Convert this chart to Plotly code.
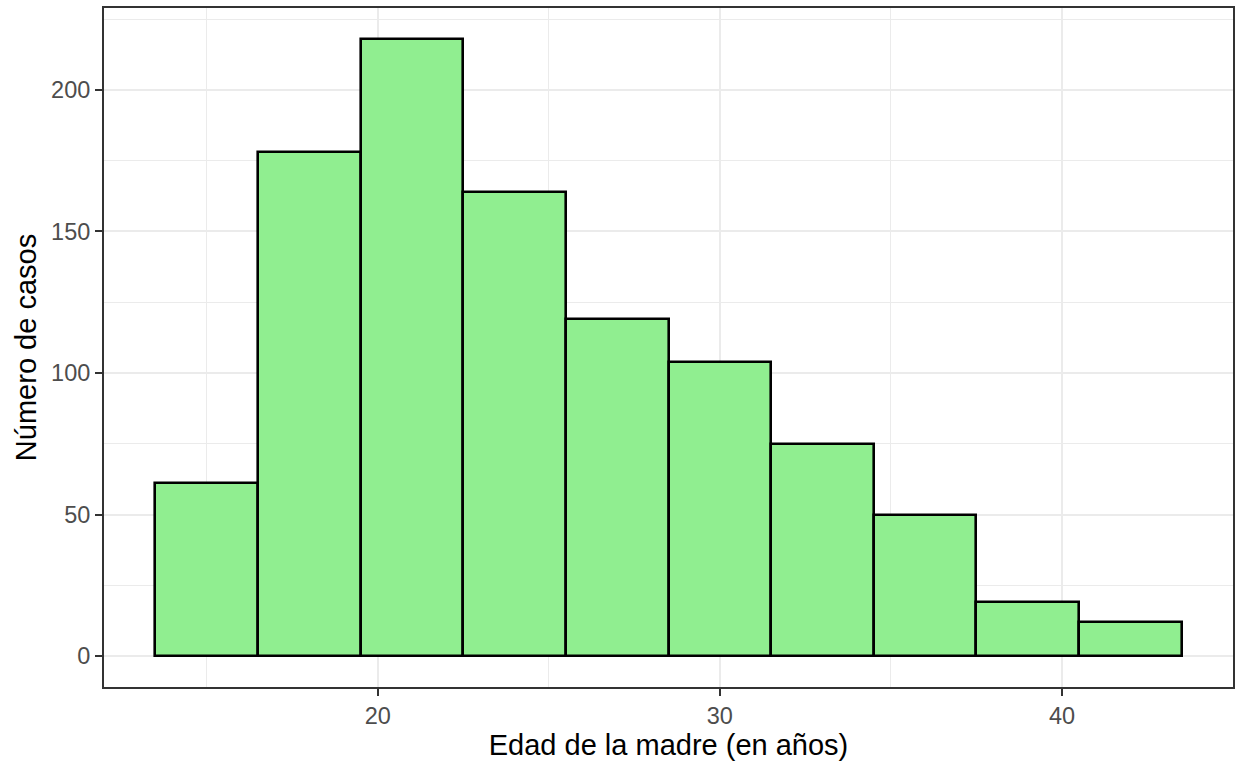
import plotly.graph_objects as go

bin_centers = [15, 18, 21, 24, 27, 30, 33, 36, 39, 42]
counts = [61, 178, 218, 164, 119, 104, 75, 50, 19, 12]
bin_width = 3
x_ticks = [20, 30, 40]
y_ticks = [0, 50, 100, 150, 200]
x_minor = [15, 25, 35, 45]
y_minor = [25, 75, 125, 175, 225]

fig = go.Figure(go.Bar(
    x=bin_centers, y=counts, width=[bin_width] * len(bin_centers),
    marker=dict(color="#90EE90", line=dict(color="black", width=2.6)),
))

font = "Liberation Sans, Arial, sans-serif"
axis_common = dict(
    showline=True, mirror=True, linecolor="#333333", linewidth=2,
    ticks="outside", ticklen=7, tickcolor="#333333", tickwidth=2,
    showgrid=True, gridcolor="#EBEBEB", gridwidth=2, zeroline=False,
    tickfont=dict(family=font, size=23.5, color="#4D4D4D"),
    automargin=False,
)

fig.update_layout(
    width=1238, height=761,
    margin=dict(l=104, r=5, t=8, b=74, autoexpand=False),
    plot_bgcolor="white", paper_bgcolor="white",
    showlegend=False, bargap=0,
    xaxis=dict(range=[12, 45], tickvals=x_ticks,
               minor=dict(tickvals=x_minor, showgrid=True, gridcolor="#EBEBEB", gridwidth=1, ticks=""),
               title=dict(text="Edad de la madre (en años)", font=dict(family=font, size=29, color="black"), standoff=6),
               **axis_common),
    yaxis=dict(range=[-10.9, 228.9], tickvals=y_ticks,
               minor=dict(tickvals=y_minor, showgrid=True, gridcolor="#EBEBEB", gridwidth=1, ticks=""),
               title=dict(text="Número de casos", font=dict(family=font, size=29, color="black"), standoff=6),
               **axis_common),
)

fig.write_html("out.html", config={"displayModeBar": False},
               post_script="document.body.style.margin='0px';")
